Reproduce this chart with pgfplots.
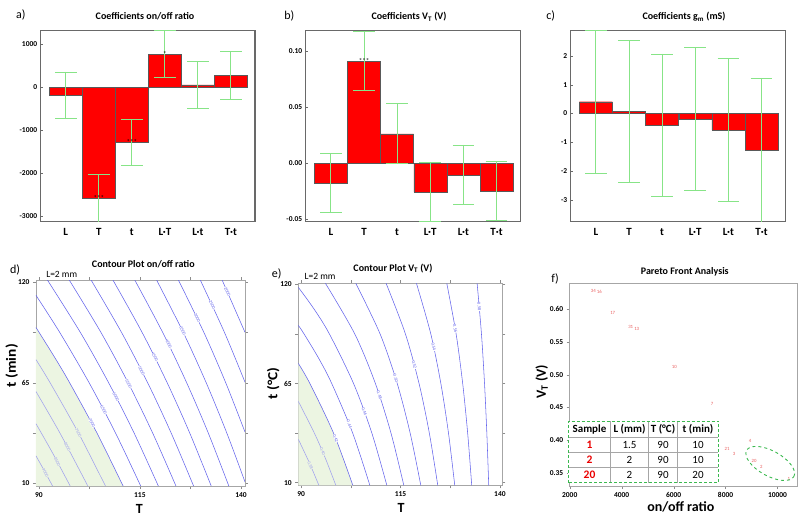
\documentclass[border=0pt]{standalone}
\usepackage{fontspec}
\setmainfont{Carlito}
\usepackage{pgfplots}
\pgfplotsset{compat=1.18}
\usetikzlibrary{shapes.geometric}

\definecolor{barred}{RGB}{255,0,0}
\definecolor{errgreen}{RGB}{135,228,135}
\definecolor{framegray}{RGB}{105,105,105}
\definecolor{contblue}{RGB}{100,100,235}
\definecolor{contlight}{RGB}{160,160,238}
\definecolor{palegreen}{RGB}{236,245,226}
\definecolor{ptred}{RGB}{232,95,95}
\definecolor{tabgreen}{RGB}{60,185,80}
\definecolor{tabred}{RGB}{235,0,0}

\pgfplotsset{
 coefax/.style={scale only axis, width=215pt, height=191pt, anchor=south west,
   xmin=-0.76, xmax=5.73, xtick={0,...,5}, xticklabels={L,T,t,L·T,L·t,T·t},
   xticklabel style={font=\bfseries\fontsize{11}{11}\selectfont, yshift=-3pt},
   yticklabel style={font=\bfseries\fontsize{7.5}{8}\selectfont},
   axis line style={framegray, line width=1.1pt},
   xtick style={draw=none}, ytick pos=left, tick align=inside, major tick length=2pt,
   ytick style={framegray}},
 coefbar/.style={ybar, bar width=33pt, fill=barred, draw=black!65, line width=0.4pt,
   error bars/.cd, y dir=both, y explicit,
   error bar style={draw=errgreen, line width=0.95pt},
   error mark options={rotate=90, draw=errgreen, mark size=10.8pt, line width=0.95pt}},
 contax/.style={scale only axis, anchor=south west,
   axis line style={black!35, line width=0.8pt},
   tick align=outside, major tick length=3pt, minor tick length=3pt,
   tick style={black!45, line width=0.5pt},
   ticklabel style={font=\bfseries\fontsize{7.5}{8}\selectfont},
   clip mode=individual},
 cl/.style={contblue, smooth, line width=0.55pt},
 cll/.style={contlight, smooth, line width=0.55pt},
}
\tikzset{
 lab/.style={font=\fontsize{4.5}{5}\selectfont, text=contblue, fill=white, inner sep=0.2pt},
 labl/.style={font=\fontsize{4.5}{5}\selectfont, text=contlight, fill=palegreen, inner sep=0.2pt},
}

\begin{document}
\begin{tikzpicture}
\useasboundingbox (0,0) rectangle (798pt,528pt);

% ---------- a) ----------
\begin{axis}[coefax, at={(40.7pt,306.3pt)}, width=214.3pt,
  ymin=-3133, ymax=1316, ytick={-3000,-2000,-1000,0,1000},
  yticklabels={-3000,-2000,-1000,0,1000}]
\addplot[coefbar] coordinates {(0,-192) +- (0,546) (1,-2590) +- (0,566) (2,-1288) +- (0,544) (3,767) +- (0,552) (4,55) +- (0,546) (5,275) +- (0,550)};
\node[font=\fontsize{7}{7}\selectfont] at (axis cs:1,-2590) {***};
\node[font=\fontsize{7}{7}\selectfont] at (axis cs:2,-1288) {***};
\node[font=\fontsize{7}{7}\selectfont] at (axis cs:3,767) {*};
\end{axis}

% ---------- b) ----------
\begin{axis}[coefax, at={(305.7pt,306.3pt)},
  ymin=-0.0524, ymax=0.1184, ytick={-0.05,0,0.05,0.10},
  yticklabels={-0.05,0.00,0.05,0.10}]
\addplot[coefbar] coordinates {(0,-0.0181) +- (0,0.0263) (1,0.0911) +- (0,0.0262) (2,0.0262) +- (0,0.0268) (3,-0.0259) +- (0,0.0262) (4,-0.0105) +- (0,0.0267) (5,-0.0253) +- (0,0.0264)};
\node[font=\fontsize{7}{7}\selectfont] at (axis cs:1,0.0911) {***};
\end{axis}

% ---------- c) ----------
\begin{axis}[coefax, at={(570.7pt,306.3pt)},
  ymin=-3.76, ymax=2.88, ytick={-3,-2,-1,0,1,2},
  yticklabels={-3,-2,-1,0,1,2}]
\addplot[coefbar] coordinates {(0,0.41) +- (0,2.48) (1,0.07) +- (0,2.48) (2,-0.41) +- (0,2.48) (3,-0.20) +- (0,2.48) (4,-0.58) +- (0,2.49) (5,-1.28) +- (0,2.49)};
\end{axis}

% ---------- d) ----------
\begin{axis}[contax, at={(36pt,42pt)}, width=209pt, height=206pt,
  xmin=89.3, xmax=141, ymin=8.5, ymax=121.3,
  xtick={90,115,140}, xticklabels={90,115,140},
  ytick={10,65,120}, yticklabels={10,65,120},
  minor xtick={102.5,127.5}, minor ytick={37.5,92.5}]
\addplot[fill=palegreen, draw=none] coordinates {(89.3,95.3) (93.97,78.75) (97.63,65) (104.39,37.5) (110.84,8.5) (89.3,8.5)} -- cycle;
\addplot[cll] coordinates {(89.3,25.0) (91.42,16.6) (93.4,8.5)};
\addplot[cll] coordinates {(89.3,42.6) (93.42,26.5) (97.76,8.5)};
\addplot[cll] coordinates {(89.3,60.2) (95.22,37.5) (102.12,8.5)};
\addplot[cll] coordinates {(89.3,77.7) (92.8,65) (99.81,37.5) (106.48,8.5)};
\addplot[cl] coordinates {(89.3,95.3) (93.97,78.75) (97.63,65) (104.39,37.5) (110.84,8.5)};
\addplot[cl] coordinates {(89.3,112.9) (95.2,92.5) (102.45,65) (108.98,37.5) (115.2,8.5)};
\addplot[cl] coordinates {(92.12,121.3) (100.3,92.5) (107.28,65) (113.57,37.5) (119.56,8.5)};
\addplot[cl] coordinates {(97.52,121.3) (105.39,92.5) (112.1,65) (118.16,37.5) (123.92,8.5)};
\addplot[cl] coordinates {(102.92,121.3) (110.48,92.5) (116.93,65) (122.74,37.5) (128.28,8.5)};
\addplot[cl] coordinates {(108.33,121.3) (115.57,92.5) (121.76,65) (127.33,37.5) (132.64,8.5)};
\addplot[cl] coordinates {(113.73,121.3) (120.66,92.5) (126.58,65) (131.92,37.5) (137.0,8.5)};
\addplot[cl] coordinates {(119.13,121.3) (125.75,92.5) (131.41,65) (136.5,37.5) (141,10.74)};
\addplot[cl] coordinates {(124.53,121.3) (130.85,92.5) (136.24,65) (141,38.05)};
\addplot[cl] coordinates {(129.94,121.3) (135.94,92.5) (141,65.35)};
\addplot[cl] coordinates {(135.34,121.3) (141,92.65)};
\node[labl, rotate=-62] at (axis cs:91.62,15.8) {9000};
\node[labl, rotate=-62] at (axis cs:94.56,21.9) {8500};
\node[labl, rotate=-62] at (axis cs:97.07,30.0) {8000};
\node[labl, rotate=-62] at (axis cs:99.76,37.7) {7500};
\node[lab, rotate=-62] at (axis cs:103.1,43.0) {7000};
\node[lab, rotate=-62] at (axis cs:106.05,50.2) {6500};
\node[lab, rotate=-62] at (axis cs:109.08,57.4) {6000};
\node[lab, rotate=-62] at (axis cs:112.19,64.6) {5500};
\node[lab, rotate=-62] at (axis cs:115.39,71.8) {5000};
\node[lab, rotate=-62] at (axis cs:118.69,79.0) {4500};
\node[lab, rotate=-62] at (axis cs:122.1,86.1) {4000};
\node[lab, rotate=-63] at (axis cs:125.58,93.3) {3500};
\node[lab, rotate=-63] at (axis cs:129.16,100.5) {3000};
\node[lab, rotate=-64] at (axis cs:132.85,107.7) {2500};
\node[lab, rotate=-65] at (axis cs:136.66,114.9) {2000};
\end{axis}

% ---------- e) ----------
\begin{axis}[contax, at={(298.3pt,42.7pt)}, width=204pt, height=202pt,
  xmin=89.3, xmax=140.6, ymin=8.56, ymax=120.6,
  xtick={90,115,140}, xticklabels={90,115,140},
  ytick={10,65,120}, yticklabels={10,65,120},
  minor xtick={102.5,127.5}, minor ytick={37.5,92.5}]
\addplot[fill=palegreen, draw=none] coordinates {(89.3,76.2) (90.83,70.5) (92.22,65) (95.21,52) (98.16,37.5) (101.07,21) (103.01,8.56) (89.3,8.56)} -- cycle;
\addplot[cll] coordinates {(89.3,34.1) (92.09,21) (94.47,8.56)};
\addplot[cll] coordinates {(89.3,55.15) (93.34,37.5) (96.07,23.75) (98.74,8.56)};
\addplot[cl] coordinates {(89.3,76.2) (92.22,65) (98.16,37.5) (103.01,8.56)};
\addplot[cl] coordinates {(89.3,97.3) (90.75,92.5) (94.49,78.75) (97.71,65) (102.98,37.5) (107.29,8.56)};
\addplot[cl] coordinates {(89.3,118.4) (93.28,106.25) (97.12,92.5) (103.2,65) (107.8,37.5) (111.56,8.56)};
\addplot[cl] coordinates {(96.12,120.6) (103.5,92.5) (108.69,65) (112.61,37.5) (115.83,8.56)};
\addplot[cl] coordinates {(103.75,120.6) (109.87,92.5) (114.18,65) (117.43,37.5) (120.1,8.56)};
\addplot[cl] coordinates {(111.38,120.6) (116.24,92.5) (119.67,65) (122.25,37.5) (124.37,8.56)};
\addplot[cl] coordinates {(119.01,120.6) (122.62,92.5) (125.15,65) (127.07,37.5) (128.64,8.56)};
\addplot[cl] coordinates {(126.64,120.6) (128.99,92.5) (130.64,65) (131.89,37.5) (132.91,8.56)};
\addplot[cl] coordinates {(134.27,120.6) (135.36,92.5) (136.13,65) (136.71,37.5) (137.19,8.56)};
\node[labl, rotate=-65] at (axis cs:92.33,19.8) {0.38};
\node[labl, rotate=-67] at (axis cs:95.42,27.2) {0.40};
\node[lab, rotate=-69] at (axis cs:98.70,34.6) {0.42};
\node[lab, rotate=-69] at (axis cs:102.12,42.5) {0.44};
\node[lab, rotate=-70] at (axis cs:105.95,49.4) {0.46};
\node[lab, rotate=-70] at (axis cs:109.7,58.6) {0.48};
\node[lab, rotate=-73] at (axis cs:113.78,67.9) {0.50};
\node[lab, rotate=-75] at (axis cs:118.5,75.3) {0.52};
\node[lab, rotate=-76] at (axis cs:123.35,85.4) {0.54};
\node[lab, rotate=-81] at (axis cs:128.77,95.6) {0.56};
\node[lab, rotate=-85] at (axis cs:134.83,107.6) {0.58};
\end{axis}

% ---------- f) ----------
\begin{axis}[scale only axis, anchor=south west, at={(569.7pt,42pt)},
  width=227.3pt, height=202.7pt,
  xmin=2000, xmax=10750, ymin=0.3307, ymax=0.639,
  scaled x ticks=false, scaled y ticks=false,
  xtick={2000,4000,6000,8000,10000}, xticklabels={2000,4000,6000,8000,10000},
  ytick={0.35,0.40,0.45,0.50,0.55,0.60}, yticklabels={0.35,0.40,0.45,0.50,0.55,0.60},
  axis line style={black!35, line width=0.8pt},
  tick align=outside, major tick length=3pt, tick style={black!45},
  xtick pos=bottom, ytick pos=left,
  ticklabel style={font=\bfseries\fontsize{7.5}{8}\selectfont},
  clip mode=individual]
\addplot[draw=none, mark=none, nodes near coords, point meta=explicit symbolic,
  every node near coord/.append style={font=\fontsize{4.8}{5}\selectfont, text=ptred, anchor=center, inner sep=0pt}]
  table[meta=label] {
x y label
2909 0.6278 34
3140 0.6263 16
3655 0.5935 17
4348 0.5731 31
4580 0.5691 13
6028 0.5119 10
7479 0.4552 7
8942 0.3987 4
8056 0.3866 21
8325 0.3795 3
9095 0.3693 20
9377 0.3602 2
10431 0.3415 1
};
\node[draw=tabgreen, dashed, line width=0.9pt, ellipse, minimum width=54pt, minimum height=25pt, rotate=-29, inner sep=0pt] at (axis cs:9720,0.3650) {};
\end{axis}

% ---------- table in f ----------
\fill[white] (568.3pt,45.3pt) rectangle (718.3pt,107pt);
\draw[black!35, line width=0.5pt] (568.3pt,90.3pt) -- (718.3pt,90.3pt)
  (568.3pt,75.3pt) -- (718.3pt,75.3pt) (568.3pt,60.3pt) -- (718.3pt,60.3pt)
  (610.7pt,45.3pt) -- (610.7pt,107pt) (648.3pt,45.3pt) -- (648.3pt,107pt)
  (677.7pt,45.3pt) -- (677.7pt,107pt);
\draw[tabgreen, densely dashed, line width=0.9pt] (568.3pt,45.3pt) rectangle (718.3pt,107pt);
\begin{scope}[every node/.style={font=\fontsize{11}{12}\selectfont, inner sep=0pt}]
\node[font=\bfseries\fontsize{11}{12}\selectfont] at (589.5pt,98.65pt) {Sample};
\node[font=\bfseries\fontsize{11}{12}\selectfont] at (629.5pt,98.65pt) {L (mm)};
\node[font=\bfseries\fontsize{11}{12}\selectfont] at (663pt,98.65pt) {T (°C)};
\node[font=\bfseries\fontsize{11}{12}\selectfont] at (698pt,98.65pt) {t (min)};
\node[font=\bfseries\fontsize{11.5}{12}\selectfont, text=tabred] at (589.5pt,82.8pt) {1};
\node at (629.5pt,82.8pt) {1.5};
\node at (663pt,82.8pt) {90};
\node at (698pt,82.8pt) {10};
\node[font=\bfseries\fontsize{11.5}{12}\selectfont, text=tabred] at (589.5pt,67.8pt) {2};
\node at (629.5pt,67.8pt) {2};
\node at (663pt,67.8pt) {90};
\node at (698pt,67.8pt) {10};
\node[font=\bfseries\fontsize{11.5}{12}\selectfont, text=tabred] at (589.5pt,52.8pt) {20};
\node at (629.5pt,52.8pt) {2};
\node at (663pt,52.8pt) {90};
\node at (698pt,52.8pt) {20};
\end{scope}

% ---------- texts ----------
\begin{scope}[every node/.style={inner sep=0pt}]
\node[font=\fontsize{12}{12}\selectfont] at (20.7pt,513pt) {a)};
\node[font=\fontsize{12}{12}\selectfont] at (289.3pt,512.3pt) {b)};
\node[font=\fontsize{12}{12}\selectfont] at (550.7pt,512pt) {c)};
\node[font=\fontsize{12}{12}\selectfont] at (15pt,258pt) {d)};
\node[font=\fontsize{12}{12}\selectfont] at (276.7pt,254pt) {e)};
\node[font=\fontsize{12}{12}\selectfont] at (555pt,248.7pt) {f)};
\node[font=\bfseries\fontsize{10}{12}\selectfont] at (145pt,511.3pt) {Coefficients on/off ratio};
\node[font=\bfseries\fontsize{10}{12}\selectfont] at (409pt,511.3pt) {Coefficients V\textsubscript{T} (V)};
\node[font=\bfseries\fontsize{10}{12}\selectfont] at (684pt,511.3pt) {Coefficients g\textsubscript{m} (mS)};
\node[font=\bfseries\fontsize{10}{12}\selectfont] at (143.3pt,264pt) {Contour Plot on/off ratio};
\node[font=\bfseries\fontsize{10}{12}\selectfont] at (393pt,259.7pt) {Contour Plot V\textsubscript{T} (V)};
\node[font=\bfseries\fontsize{10}{12}\selectfont] at (684.8pt,256.3pt) {Pareto Front Analysis};
\node[font=\fontsize{9.5}{10}\selectfont] at (61.7pt,254pt) {L=2 mm};
\node[font=\fontsize{9.5}{10}\selectfont] at (320pt,252pt) {L=2 mm};
\node[font=\bfseries\fontsize{14}{14}\selectfont, rotate=90, xscale=1.1] at (11.7pt,162.3pt) {t (min)};
\node[font=\bfseries\fontsize{14}{14}\selectfont, rotate=90, xscale=1.1] at (273.3pt,144.7pt) {t (°C)};
\node[font=\bfseries\fontsize{14}{14}\selectfont, rotate=90] at (541.7pt,146.3pt) {V\textsubscript{T} (V)};
\node[font=\bfseries\fontsize{14}{14}\selectfont] at (139.3pt,18.7pt) {T};
\node[font=\bfseries\fontsize{14}{14}\selectfont] at (401pt,19.7pt) {T};
\node[font=\bfseries\fontsize{14}{14}\selectfont] at (680.8pt,21.3pt) {on/off ratio};
\end{scope}
\end{tikzpicture}
\end{document}
